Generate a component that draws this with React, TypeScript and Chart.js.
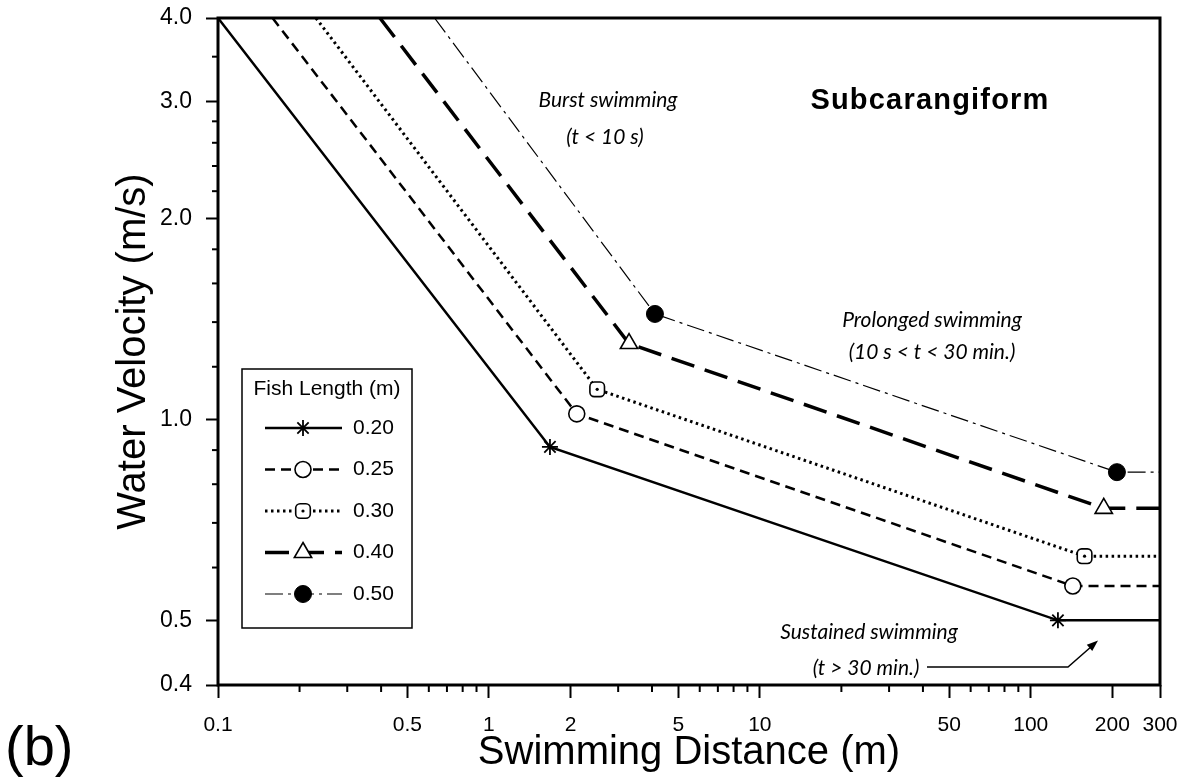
import React, { useEffect, useRef } from 'react';
import { Chart, registerables } from 'chart.js';
import { drawPoint } from 'chart.js/helpers';

Chart.register(...registerables);

// ---- data ----
const fishLengths = ['0.20', '0.25', '0.30', '0.40', '0.50'];

const distance020 = [0.1, 1.68, 126, 300];
const velocity020 = [4.0, 0.91, 0.5, 0.5];
const distance025 = [0.159, 2.11, 143, 300];
const velocity025 = [4.0, 1.02, 0.563, 0.563];
const distance030 = [0.23, 2.51, 158, 300];
const velocity030 = [4.0, 1.11, 0.624, 0.624];
const distance040 = [0.396, 3.29, 186, 300];
const velocity040 = [4.0, 1.3, 0.736, 0.736];
const distance050 = [0.63, 4.1, 208, 300];
const velocity050 = [4.0, 1.44, 0.834, 0.834];

const xMajorTicks = [0.1, 0.5, 1, 2, 5, 10, 50, 100, 200, 300];
const xTickLabels = ['0.1', '0.5', '1', '2', '5', '10', '50', '100', '200', '300'];
const xMinorTicks = [0.2, 0.3, 0.4, 0.6, 0.7, 0.8, 0.9, 3, 4, 6, 7, 8, 9, 20, 30, 40, 60, 70, 80, 90];
const yMajorTicks = [0.4, 0.5, 1.0, 2.0, 3.0, 4.0];
const yTickLabels = ['0.4', '0.5', '1.0', '2.0', '3.0', '4.0'];
const yMinorTicks = [0.6, 0.7, 0.8, 0.9, 1.2, 1.4, 1.6, 1.8, 2.2, 2.4, 2.6, 2.8, 3.5];

// ---- styles ----
const SANS = '"Liberation Sans", Arial, sans-serif';
const ITALIC = 'italic 21px Lato, "Open Sans", sans-serif';

const seriesStyles = [
  { dash: [] as number[], width: 2.5, pointStyle: 'star', radius: 8, fill: '#000', pw: 1.8 },
  { dash: [10, 6], width: 2.5, pointStyle: 'circle', radius: 8, fill: '#fff', pw: 1.6 },
  { dash: [2.5, 3.5], width: 3, pointStyle: 'rectRounded', radius: 8.5, fill: '#fff', pw: 1.6 },
  { dash: [24, 11], width: 3.5, pointStyle: 'triangle', radius: 10, fill: '#fff', pw: 1.6 },
  { dash: [18, 5, 3, 5], width: 1.2, pointStyle: 'circle', radius: 8.5, fill: '#000', pw: 1 },
];

const seriesData = [
  [distance020, velocity020],
  [distance025, velocity025],
  [distance030, velocity030],
  [distance040, velocity040],
  [distance050, velocity050],
];

const decorPlugin = {
  id: 'decor',
  afterDatasetsDraw(chart: any) {
    const ctx = chart.ctx;
    const meta = chart.getDatasetMeta(2);
    ctx.save();
    ctx.fillStyle = '#000';
    meta.data.forEach((pt: any, i: number) => {
      if (i === 1 || i === 2) {
        ctx.beginPath();
        ctx.arc(pt.x, pt.y, 1.6, 0, Math.PI * 2);
        ctx.fill();
      }
    });
    ctx.restore();
  },
  afterDraw(chart: any) {
    const ctx = chart.ctx;
    const ca = chart.chartArea;
    const xs = chart.scales.x;
    const ys = chart.scales.y;
    ctx.save();
    ctx.strokeStyle = '#000';
    ctx.fillStyle = '#000';
    ctx.setLineDash([]);

    // frame
    ctx.lineWidth = 3;
    ctx.strokeRect(ca.left, ca.top, ca.right - ca.left, ca.bottom - ca.top);

    // minor ticks
    ctx.lineWidth = 2;
    xMinorTicks.forEach((v) => {
      const px = xs.getPixelForValue(v);
      ctx.beginPath();
      ctx.moveTo(px, ca.bottom);
      ctx.lineTo(px, ca.bottom + 7);
      ctx.stroke();
    });
    yMinorTicks.forEach((v) => {
      const py = ys.getPixelForValue(v);
      ctx.beginPath();
      ctx.moveTo(ca.left - 6, py);
      ctx.lineTo(ca.left, py);
      ctx.stroke();
    });

    // legend
    const lx = ca.left + 24;
    const ly = ca.top + 351;
    const lw = 170;
    const lh = 259;
    ctx.fillStyle = '#fff';
    ctx.fillRect(lx, ly, lw, lh);
    ctx.lineWidth = 1.5;
    ctx.strokeStyle = '#000';
    ctx.strokeRect(lx, ly, lw, lh);
    ctx.fillStyle = '#000';
    ctx.font = `21px ${SANS}`;
    ctx.textAlign = 'center';
    ctx.textBaseline = 'middle';
    ctx.fillText('Fish Length (m)', lx + 85, ly + 20);
    fishLengths.forEach((lab, i) => {
      const st = seriesStyles[i];
      const ry = ly + 59 + i * 41.5;
      ctx.lineWidth = st.width;
      ctx.setLineDash(st.dash);
      ctx.beginPath();
      ctx.moveTo(lx + 23, ry);
      ctx.lineTo(lx + 100, ry);
      ctx.stroke();
      ctx.setLineDash([]);
      ctx.fillStyle = st.fill;
      ctx.strokeStyle = '#000';
      ctx.lineWidth = st.pw;
      drawPoint(ctx, { pointStyle: st.pointStyle as any, radius: st.radius, rotation: 0, borderWidth: st.pw }, lx + 61, ry);
      if (i === 2) {
        ctx.fillStyle = '#000';
        ctx.beginPath();
        ctx.arc(lx + 61, ry, 1.6, 0, Math.PI * 2);
        ctx.fill();
      }
      ctx.fillStyle = '#000';
      ctx.font = `21px ${SANS}`;
      ctx.textAlign = 'left';
      ctx.fillText(lab, lx + 111, ry);
    });

    // annotations
    ctx.fillStyle = '#000';
    ctx.textAlign = 'center';
    ctx.textBaseline = 'middle';
    ctx.font = ITALIC;
    ctx.fillText('Burst swimming', 608, 100);
    ctx.fillText('(t < 10 s)', 605, 137);
    ctx.fillText('Prolonged swimming', 932, 320);
    ctx.fillText('(10 s < t < 30 min.)', 932, 352);
    ctx.fillText('Sustained swimming', 869, 632);
    ctx.fillText('(t > 30 min.)', 866, 668);

    ctx.font = `bold 29px ${SANS}`;
    (ctx as any).letterSpacing = '1.2px';
    ctx.fillText('Subcarangiform', 930, 101);
    (ctx as any).letterSpacing = '0px';

    // arrow
    ctx.lineWidth = 1.5;
    ctx.beginPath();
    ctx.moveTo(927, 667);
    ctx.lineTo(1068, 667);
    ctx.lineTo(1092, 646);
    ctx.stroke();
    const ang = Math.atan2(646 - 667, 1092 - 1068);
    const hx = 1098;
    const hy = 640.5;
    ctx.beginPath();
    ctx.moveTo(hx, hy);
    ctx.lineTo(hx - 12 * Math.cos(ang - 0.35), hy - 12 * Math.sin(ang - 0.35));
    ctx.lineTo(hx - 12 * Math.cos(ang + 0.35), hy - 12 * Math.sin(ang + 0.35));
    ctx.closePath();
    ctx.fill();

    // panel label
    ctx.font = `56px ${SANS}`;
    ctx.textAlign = 'left';
    ctx.textBaseline = 'alphabetic';
    ctx.fillText('(b)', 5, 765);

    ctx.restore();
  },
};

export default function App() {
  const ref = useRef<HTMLCanvasElement>(null);
  useEffect(() => {
    const canvas = ref.current;
    if (!canvas) return;
    const datasets = seriesData.map(([xs, ys], i) => {
      const st = seriesStyles[i];
      return {
        label: fishLengths[i],
        data: xs.map((x, j) => ({ x, y: ys[j] })),
        borderColor: '#000',
        borderWidth: st.width,
        borderDash: st.dash,
        tension: 0,
        fill: false,
        pointStyle: st.pointStyle,
        pointRadius: xs.map((_, j) => (j === 1 || j === 2 ? st.radius : 0)),
        pointHoverRadius: xs.map((_, j) => (j === 1 || j === 2 ? st.radius : 0)),
        pointBackgroundColor: st.fill,
        pointBorderColor: '#000',
        pointBorderWidth: st.pw,
      };
    });
    const chart = new Chart(canvas, {
      type: 'line',
      data: { datasets } as any,
      options: {
        animation: false,
        responsive: false,
        devicePixelRatio: 1,
        events: [],
        layout: { padding: { left: 0, top: 18, right: 34, bottom: 0 } },
        plugins: { legend: { display: false }, tooltip: { enabled: false } },
        scales: {
          x: {
            type: 'logarithmic',
            min: 0.1,
            max: 300,
            afterBuildTicks: (s: any) => {
              s.ticks = xMajorTicks.map((v) => ({ value: v }));
            },
            afterFit: (s: any) => {
              s.height = 94;
              s.paddingLeft = 0;
              s.paddingRight = 0;
            },
            ticks: {
              autoSkip: false,
              maxRotation: 0,
              minRotation: 0,
              padding: 15,
              color: '#000',
              font: { family: SANS, size: 21 },
              callback: (_v: any, i: number) => xTickLabels[i],
            },
            grid: { drawOnChartArea: false, drawTicks: true, tickLength: 13, tickWidth: 2, tickColor: '#000' },
            border: { display: false },
            title: {
              display: true,
              text: 'Swimming Distance (m)',
              color: '#000',
              font: { family: SANS, size: 40 },
              padding: { top: 0, bottom: 2 },
            },
          },
          y: {
            type: 'logarithmic',
            min: 0.4,
            max: 4,
            afterBuildTicks: (s: any) => {
              s.ticks = yMajorTicks.map((v) => ({ value: v }));
            },
            afterFit: (s: any) => {
              s.width = 218;
              s.paddingTop = 0;
              s.paddingBottom = 0;
            },
            ticks: {
              autoSkip: false,
              padding: 14,
              color: '#000',
              font: { family: SANS, size: 23 },
              callback: (_v: any, i: number) => yTickLabels[i],
            },
            grid: { drawOnChartArea: false, drawTicks: true, tickLength: 12, tickWidth: 2, tickColor: '#000' },
            border: { display: false },
            title: {
              display: true,
              text: 'Water Velocity (m/s)',
              color: '#000',
              font: { family: SANS, size: 40 },
              padding: { top: 110, bottom: 0 },
            },
          },
        },
      } as any,
      plugins: [decorPlugin],
    });
    return () => chart.destroy();
  }, []);
  return (
    <div style={{ position: 'fixed', left: 0, top: 0, width: 1194, height: 779, background: '#fff' }}>
      <canvas ref={ref} width={1194} height={779} style={{ display: 'block' }} />
    </div>
  );
}
